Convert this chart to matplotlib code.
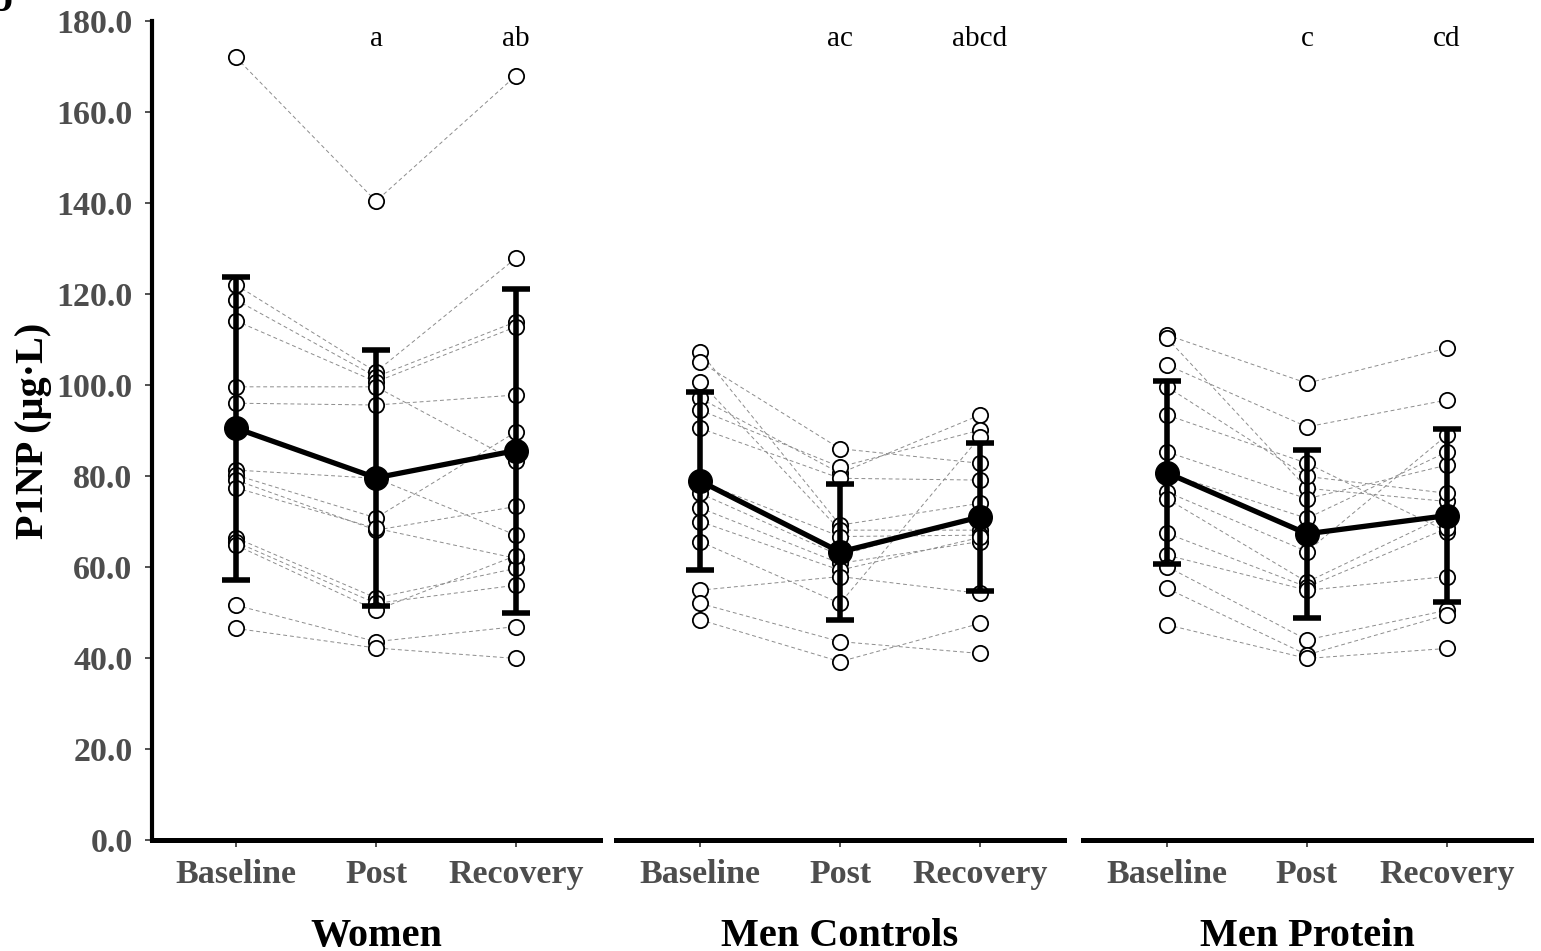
import matplotlib
matplotlib.use('Agg')
import matplotlib.pyplot as plt
import numpy as np

plt.rcParams['font.family'] = ['Liberation Serif', 'DejaVu Serif']

groups = ['Women', 'Men Controls', 'Men Protein']
timepoints = ['Baseline', 'Post', 'Recovery']

# individual participants: baseline, post, recovery (ug/L)
women_base = [172.0, 122.0, 118.7, 114.1, 99.6, 96.0, 81.3, 80.2, 79.1, 77.4, 66.4, 65.5, 64.8, 51.6, 46.5]
women_post = [140.4, 102.9, 101.8, 100.7, 99.6, 95.6, 79.5, 70.8, 68.1, 68.5, 53.2, 52.0, 50.5, 43.6, 42.2]
women_rec = [168.0, 127.9, 113.9, 112.8, 83.2, 97.8, 67.0, 89.7, 73.3, 61.9, 59.7, 56.0, 62.5, 46.9, 39.9]

ctrl_base = [107.3, 105.1, 100.7, 97.1, 94.5, 90.5, 78.8, 76.2, 73.0, 70.0, 65.6, 54.9, 52.0, 48.4]
ctrl_post = [69.2, 86.0, 68.1, 80.6, 82.0, 79.5, 66.7, 62.5, 60.8, 59.3, 52.0, 57.9, 43.6, 39.2]
ctrl_rec = [74.0, 82.8, 68.1, 93.4, 90.1, 79.1, 67.0, 71.5, 65.6, 66.5, 88.6, 54.2, 41.0, 47.6]

prot_base = [111.0, 110.3, 104.4, 99.6, 93.4, 85.3, 80.6, 76.5, 75.0, 67.4, 62.6, 60.1, 55.3, 47.3]
prot_post = [100.4, 77.3, 90.8, 79.9, 82.8, 75.0, 70.7, 63.4, 56.7, 55.6, 54.9, 44.0, 40.7, 39.9]
prot_rec = [108.1, 74.4, 96.7, 76.2, 67.8, 82.4, 85.3, 89.0, 71.4, 68.5, 57.9, 50.5, 49.5, 42.1]

# group mean and SD per timepoint
women_mean = [90.5, 79.6, 85.6]
women_sd = [33.3, 28.2, 35.6]
ctrl_mean = [78.9, 63.3, 71.0]
ctrl_sd = [19.6, 15.0, 16.2]
prot_mean = [80.7, 67.3, 71.3]
prot_sd = [20.1, 18.4, 19.1]

letters = [['', 'a', 'ab'], ['', 'ac', 'abcd'], ['', 'c', 'cd']]

individuals = [
    (women_base, women_post, women_rec),
    (ctrl_base, ctrl_post, ctrl_rec),
    (prot_base, prot_post, prot_rec),
]
means = [women_mean, ctrl_mean, prot_mean]
sds = [women_sd, ctrl_sd, prot_sd]

W, H = 1541, 951
fig = plt.figure(figsize=(W / 100, H / 100), dpi=100)

panel_left = [152, 616, 1083]
panel_w = 448
x = np.arange(1, 4)

for g in range(3):
    ax = fig.add_axes([panel_left[g] / W, (H - 840) / H, panel_w / W, 819 / H])
    b, p, r = individuals[g]
    ind = np.array([b, p, r])
    for k in range(ind.shape[1]):
        ax.plot(x, ind[:, k], color='#8c8c8c', lw=0.7, ls=(0, (4, 3)), zorder=1)
        ax.plot(x, ind[:, k], 'o', ms=11, mfc='white', mec='black', mew=1.3, zorder=2)

    ax.errorbar(x, means[g], yerr=sds[g], fmt='none', ecolor='black',
                elinewidth=4, capsize=10, capthick=4, zorder=3)
    ax.plot(x, means[g], '-o', color='black', lw=3.8, ms=17, zorder=4)

    for i, lab in enumerate(letters[g]):
        if lab:
            ax.text(x[i], 176.0, lab, ha='center', va='center', fontsize=21)

    ax.set_xlim(0.4, 3.6)
    ax.set_ylim(0, 180)
    ax.set_xticks(x)
    ax.set_xticklabels(timepoints, fontsize=24.5, fontweight='bold', color='#4d4d4d')
    ax.set_yticks(np.arange(0, 181, 20))
    ax.set_yticklabels(['%.1f' % v for v in np.arange(0, 181, 20)],
                       fontsize=24.5, fontweight='bold', color='#4d4d4d')
    ax.tick_params(axis='both', length=5, width=1.2, color='#333333')
    ax.tick_params(axis='x', pad=9)
    ax.tick_params(axis='y', pad=9)
    for s in ['top', 'right']:
        ax.spines[s].set_visible(False)
    ax.spines['bottom'].set_linewidth(3.6)
    ax.spines['left'].set_linewidth(3.0)
    ax.set_xlabel(groups[g], fontsize=29, fontweight='bold', labelpad=20)
    if g > 0:
        ax.spines['left'].set_visible(False)
        ax.tick_params(axis='y', left=False, labelleft=False)
    else:
        ax.set_ylabel('P1NP (µg·L)', fontsize=29, fontweight='bold', labelpad=3)

fig.text(0.001, 0.999, 'b', fontsize=30, fontweight='bold', ha='center', va='center')

fig.savefig('out.png', dpi=100)
